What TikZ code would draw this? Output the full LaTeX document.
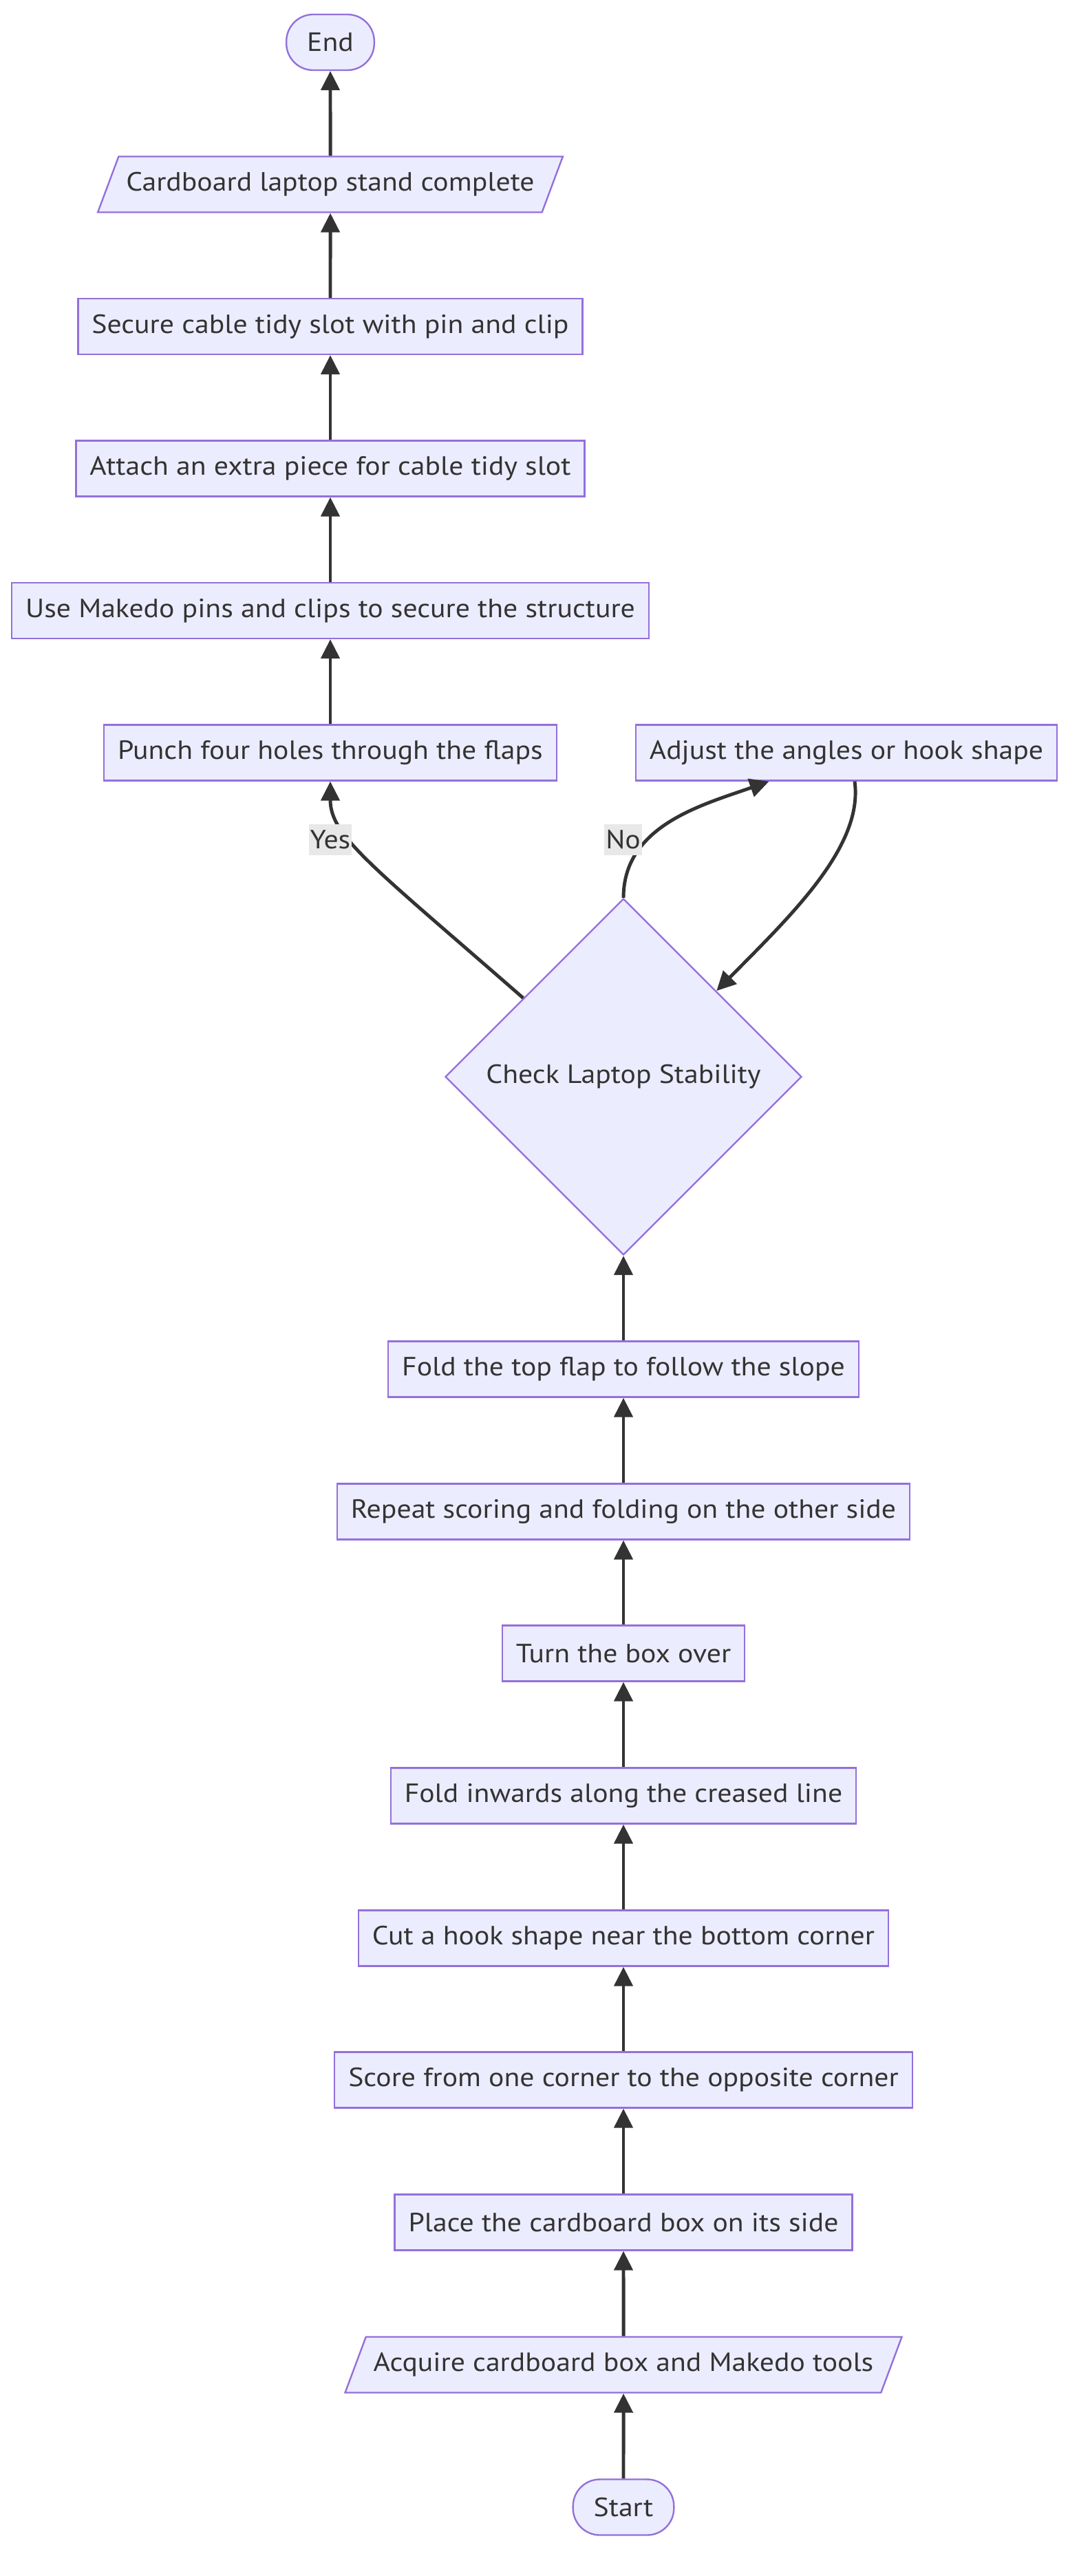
\documentclass[tikz,border=0pt]{standalone}
\usepackage{fontspec}
\setmainfont[FakeStretch=1.09]{PT Sans}
\usetikzlibrary{arrows.meta,shapes.geometric,calc}
\definecolor{nodefill}{HTML}{ECECFF}
\definecolor{nodeline}{HTML}{9370DB}
\definecolor{ink}{HTML}{333333}
\definecolor{lblbg}{HTML}{E8E8E8}

\tikzset{
	every node/.style={font=\fontsize{10.9}{13}\selectfont, text=ink},
	box/.style={draw=nodeline, fill=nodefill, line width=0.68pt, minimum height=0.81cm, inner xsep=0.2cm},
	io/.style={box, trapezium, trapezium left angle=62.6, trapezium right angle=117.4, trapezium stretches body, inner xsep=0.11cm},
	term/.style={box, rounded corners=0.39cm, inner xsep=0.3cm},
	choice/.style={draw=nodeline, fill=nodefill, line width=0.68pt, diamond, aspect=1, minimum width=5.18cm, minimum height=5.18cm, inner sep=0pt},
	flow/.style={draw=ink, line width=1.4pt, -{Triangle[length=0.28cm,width=0.27cm]}},
	tag/.style={fill=lblbg, inner xsep=0.02cm, inner ysep=0pt, minimum height=0.45cm}
}

\begin{document}
\begin{tikzpicture}
	\useasboundingbox (0,0) rectangle (15.68,-37.44);
	% left column
	\node[term] (end) at (4.80,-0.615) {End};
	\node[io] (done) at (4.80,-2.68) {Cardboard laptop stand complete};
	\node[box] (secure) at (4.80,-4.745) {Secure cable tidy slot with pin and clip};
	\node[box] (attach) at (4.80,-6.81) {Attach an extra piece for cable tidy slot};
	\node[box] (pins) at (4.80,-8.875) {Use Makedo pins and clips to secure the structure};
	\node[box] (punch) at (4.80,-10.94) {Punch four holes through the flaps};
	% right column
	\node[box] (adjust) at (12.30,-10.94) {Adjust the angles or hook shape};
	\node[choice] (check) at (9.06,-15.65) {Check Laptop Stability};
	\node[box] (foldtop) at (9.06,-19.90) {Fold the top flap to follow the slope};
	\node[box] (rescore) at (9.06,-21.97) {Repeat scoring and folding on the other side};
	\node[box] (turn) at (9.06,-24.03) {Turn the box over};
	\node[box] (foldin) at (9.06,-26.10) {Fold inwards along the creased line};
	\node[box] (hook) at (9.06,-28.17) {Cut a hook shape near the bottom corner};
	\node[box] (score) at (9.06,-30.23) {Score from one corner to the opposite corner};
	\node[box] (place) at (9.06,-32.30) {Place the cardboard box on its side};
	\node[io] (acquire) at (9.06,-34.37) {Acquire cardboard box and Makedo tools};
	\node[term] (start) at (9.06,-36.44) {Start};

	% straight steps
	\draw[flow] (start) -- (acquire);
	\draw[flow] (acquire) -- (place);
	\draw[flow] (place) -- (score);
	\draw[flow] (score) -- (hook);
	\draw[flow] (hook) -- (foldin);
	\draw[flow] (foldin) -- (turn);
	\draw[flow] (turn) -- (rescore);
	\draw[flow] (rescore) -- (foldtop);
	\draw[flow] (foldtop) -- (check);
	\draw[flow] (punch) -- (pins);
	\draw[flow] (pins) -- (attach);
	\draw[flow] (attach) -- (secure);
	\draw[flow] (secure) -- (done);
	\draw[flow] (done) -- (end);

	% decision branches
	\coordinate (yesfrom) at ($(check.north)!0.56!(check.west)$);
	\coordinate (backto) at ($(check.north)!0.52!(check.east)$);
	\coordinate (noto) at ($(adjust.south west)!0.317!(adjust.south east)$);
	\coordinate (backfrom) at ($(adjust.south)+(0.12,0)$);
	\draw[flow] (yesfrom) .. controls (5.40,-12.58) and (4.80,-12.15) .. (punch.south);
	\draw[flow] (check.north) .. controls (9.06,-12.00) and (10.20,-11.70) .. (noto);
	\draw[flow] (backfrom) .. controls (12.55,-12.30) and (11.50,-13.30) .. (backto);
	\node[tag] (yes) at (4.80,-12.20) {Yes};
	\node[tag] (no) at (9.055,-12.20) {No};
\end{tikzpicture}
\end{document}
